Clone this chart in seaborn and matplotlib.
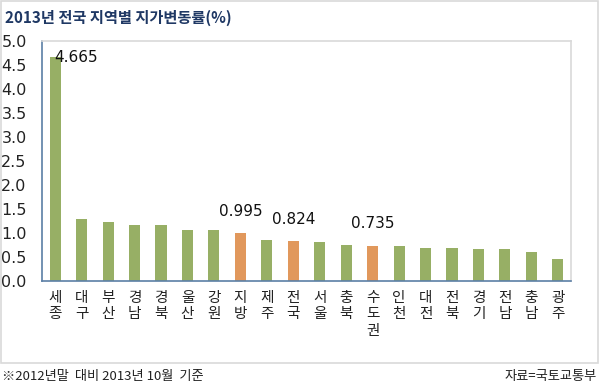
import pandas as pd
import matplotlib.pyplot as plt
from matplotlib.patches import Rectangle
import seaborn as sns

# 2013년 전국 지역별 지가변동률 (2012년말 대비 2013년 10월)
regions = ['세종', '대구', '부산', '경남', '경북', '울산', '강원', '지방', '제주', '전국',
           '서울', '충북', '수도권', '인천', '대전', '전북', '경기', '전남', '충남', '광주']
rates = [4.665, 1.28, 1.22, 1.17, 1.17, 1.07, 1.05, 0.995, 0.85, 0.824,
         0.80, 0.755, 0.735, 0.735, 0.686, 0.686, 0.665, 0.665, 0.597, 0.457]
# aggregate rows (지방 / 전국 / 수도권) are highlighted in orange
groups = ['지역' if r not in ('지방', '전국', '수도권') else '합계' for r in regions]
labelled = ['세종', '지방', '전국', '수도권']
yticks = [0.0, 0.5, 1.0, 1.5, 2.0, 2.5, 3.0, 3.5, 4.0, 4.5, 5.0]

sns.set_style('white')
plt.rcParams['font.family'] = ['Noto Sans CJK KR', 'DejaVu Sans']

df = pd.DataFrame({'region': regions, 'rate': rates, 'group': groups})

fig = plt.figure(figsize=(6, 3.87), dpi=100)
ax = fig.add_axes([0.07, 0.274, 0.8817, 0.6213])

sns.barplot(data=df, x='region', y='rate', hue='group',
            palette={'지역': '#9bbb59', '합계': '#f79646'},
            dodge=False, width=0.42, linewidth=0, legend=False, ax=ax)

ax.set_ylim(0, 5.0)
ax.set_xlim(-0.5, len(regions) - 0.5)
ax.set_yticks(yticks)
ax.set_yticklabels([f'{v:.1f}' for v in yticks], fontsize=11.5,
                   family='DejaVu Sans', color='#222222')
ax.set_xticks(range(len(regions)))
ax.set_xticklabels(['\n'.join(r) for r in regions], fontsize=10.5,
                   color='#222222', linespacing=1.25)
ax.set_xlabel('')
ax.set_ylabel('')

# tick marks between categories
ax.set_xticks([i - 0.5 for i in range(1, len(regions))], minor=True)
ax.tick_params(axis='x', which='major', length=0, pad=7)
ax.tick_params(axis='x', which='minor', length=3, color='#5b7fa6', direction='in')
ax.tick_params(axis='y', length=3, color='#5b7fa6', direction='out', pad=8)

for side in ['left', 'bottom']:
    ax.spines[side].set_color('#5b7fa6')
    ax.spines[side].set_linewidth(1.2)
for side in ['top', 'right']:
    ax.spines[side].set_color('#d9d9d9')
    ax.spines[side].set_linewidth(1.2)

# value labels
for name in labelled:
    i = regions.index(name)
    v = rates[i]
    if i == 0:
        ax.text(i - 0.05, v - 0.02, f'{v:.3f}', ha='left', va='center',
                fontsize=11, family='DejaVu Sans', color='#111111')
    else:
        ax.text(i, v + 0.3, f'{v:.3f}', ha='center', va='bottom',
                fontsize=11, family='DejaVu Sans', color='#111111')

fig.text(0.008, 0.955, '2013년 전국 지역별 지가변동률(%)', fontsize=11,
         fontweight='bold', color='#1f3864', ha='left', va='center')
fig.text(0.003, 0.026, '※2012년말  대비 2013년 10월  기준', fontsize=9.5,
         color='#222222', ha='left', va='center')
fig.text(0.995, 0.026, '자료=국토교통부', fontsize=9.5,
         color='#222222', ha='right', va='center')

# outer frame of the graphic
fig.patches.append(Rectangle((0.002, 0.062), 0.994, 0.936, transform=fig.transFigure,
                             fill=False, edgecolor='#d9d9d9', linewidth=1.2))

fig.savefig('out.png', dpi=100)
